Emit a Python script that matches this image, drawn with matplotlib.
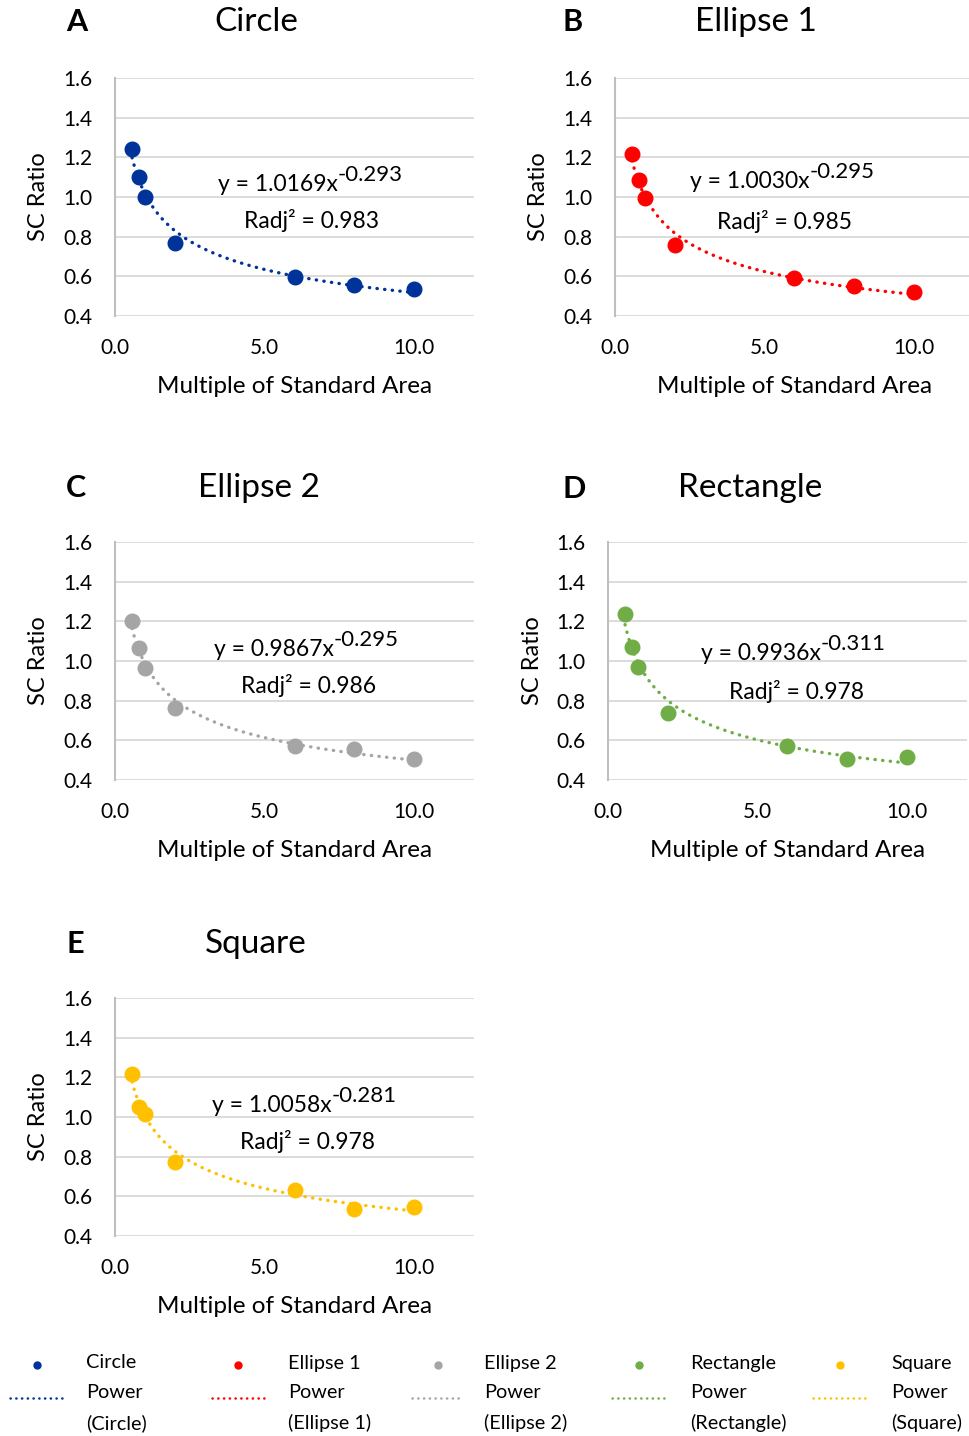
import matplotlib
matplotlib.use('Agg')
import matplotlib.pyplot as plt
import numpy as np

plt.rcParams['font.family'] = ['Lato', 'DejaVu Sans']

# measured SC ratio against multiple of the standard area
area = [0.57, 0.79, 1.0, 2.0, 6.0, 8.0, 10.0]

circle = [1.241, 1.102, 1.002, 0.770, 0.598, 0.558, 0.538]
ellipse1 = [1.217, 1.086, 0.995, 0.758, 0.592, 0.551, 0.521]
ellipse2 = [1.202, 1.066, 0.965, 0.763, 0.571, 0.556, 0.506]
rectangle = [1.236, 1.072, 0.970, 0.739, 0.571, 0.504, 0.517]
square = [1.217, 1.049, 1.014, 0.772, 0.632, 0.538, 0.545]

# power-law fits y = a * x^b and adjusted R^2
fit_a = [1.0169, 1.0030, 0.9867, 0.9936, 1.0058]
fit_b = [-0.293, -0.295, -0.295, -0.311, -0.281]
fit_r2 = [0.983, 0.985, 0.986, 0.978, 0.978]

names = ['Circle', 'Ellipse 1', 'Ellipse 2', 'Rectangle', 'Square']
letters = ['A', 'B', 'C', 'D', 'E']
colors = ['#003399', '#ff0000', '#a5a5a5', '#70ad47', '#ffc000']
series = [circle, ellipse1, ellipse2, rectangle, square]

W, H = 970, 1436
fig = plt.figure(figsize=(W / 100, H / 100), dpi=100)

# axes boxes in pixels: left, top (pixel of 1.6 gridline), x=0 at left
boxes = [(115, 78), (615, 78), (115, 542), (608, 542), (115, 998)]
ax_w, ax_h = 359, 238

# per-panel text placement (axes fractions)
title_pos = [(0.393, 1.235), (0.393, 1.235), (0.401, 1.227), (0.396, 1.227), (0.393, 1.227)]
letter_pos = [(-0.106, 1.235), (-0.117, 1.235), (-0.109, 1.227), (-0.095, 1.223), (-0.111, 1.227)]
eq_pos = [(0.287, 0.552), (0.209, 0.565), (0.276, 0.548), (0.259, 0.530), (0.270, 0.548)]
r2_pos = [(0.546, 0.403), (0.471, 0.395), (0.538, 0.395), (0.524, 0.370), (0.535, 0.395)]
ylab_x = [-0.214, -0.214, -0.214, -0.209, -0.214]

for i in range(5):
    left, top = boxes[i]
    ax = fig.add_axes([left / W, 1 - (top + ax_h) / H, ax_w / W, ax_h / H])
    ax.set_xlim(0, 12)
    ax.set_ylim(0.4, 1.6)
    ax.set_yticks(np.arange(0.4, 1.61, 0.2))
    ax.set_xticks([0, 5, 10])
    ax.set_yticklabels(['%.1f' % v for v in np.arange(0.4, 1.61, 0.2)])
    ax.set_xticklabels(['0.0', '5.0', '10.0'])
    ax.tick_params(length=0, labelsize=15, colors='#000000')
    ax.tick_params(axis='y', pad=16.5)
    ax.tick_params(axis='x', pad=15.5)
    ax.grid(axis='y', color='#d9d9d9', lw=1.3)
    ax.set_axisbelow(True)
    for s in ['top', 'right', 'bottom']:
        ax.spines[s].set_visible(False)
    ax.spines['left'].set_color('#bfbfbf')
    ax.spines['left'].set_linewidth(1.5)

    # fitted trendline
    xs = np.linspace(area[0], area[-1], 200)
    ax.plot(xs, fit_a[i] * xs ** fit_b[i], color=colors[i], lw=2.4,
            linestyle=(0, (0.1, 2.2)), dash_capstyle='round', zorder=2)
    ax.plot(area, series[i], 'o', ms=10.5, color=colors[i], zorder=3)

    ax.text(0.5, -0.296, 'Multiple of Standard Area', transform=ax.transAxes,
            ha='center', va='center', fontsize=17.5)
    ax.text(ylab_x[i], 0.5, 'SC Ratio', transform=ax.transAxes, rotation=90,
            ha='center', va='center', fontsize=17)
    ax.text(title_pos[i][0], title_pos[i][1], names[i], transform=ax.transAxes,
            ha='center', va='center', fontsize=24)
    ax.text(letter_pos[i][0], letter_pos[i][1], letters[i], transform=ax.transAxes,
            ha='center', va='center', fontsize=22, fontweight='bold')

    base = ax.text(eq_pos[i][0], eq_pos[i][1], 'y = %.4fx' % fit_a[i],
                   transform=ax.transAxes, ha='left', va='center', fontsize=16.5)
    ax.annotate('%.3f' % fit_b[i], xy=(1.0, 0.5), xycoords=base,
                ha='left', va='bottom', fontsize=16)
    ax.text(r2_pos[i][0], r2_pos[i][1], 'Radj\u00b2 = %.3f' % fit_r2[i],
            transform=ax.transAxes, ha='center', va='center', fontsize=16.5)

# legend strip along the bottom, laid out in pixel coordinates
lg = fig.add_axes([0, 0, 1, 1], facecolor='none')
lg.set_xlim(0, W)
lg.set_ylim(H, 0)
lg.axis('off')
marker_x = [37, 238, 438, 639, 840]
line_x = [(10, 65), (212, 266), (412, 462), (612, 667), (813, 868)]
text_x = [86, 288, 484, 690, 891]
for i in range(5):
    lg.plot([marker_x[i]], [1365], 'o', ms=5, color=colors[i])
    lg.plot(line_x[i], [1398, 1398], color=colors[i], lw=1.8,
            linestyle=(0, (0.1, 2.2)), dash_capstyle='round')
    lg.text(text_x[i], 1363, names[i], ha='left', va='center', fontsize=14.3)
    lg.text(text_x[i], 1393, 'Power', ha='left', va='center', fontsize=14.3)
    lg.text(text_x[i], 1423, '(%s)' % names[i], ha='left', va='center', fontsize=14.3)

fig.savefig('out.png', dpi=100)
